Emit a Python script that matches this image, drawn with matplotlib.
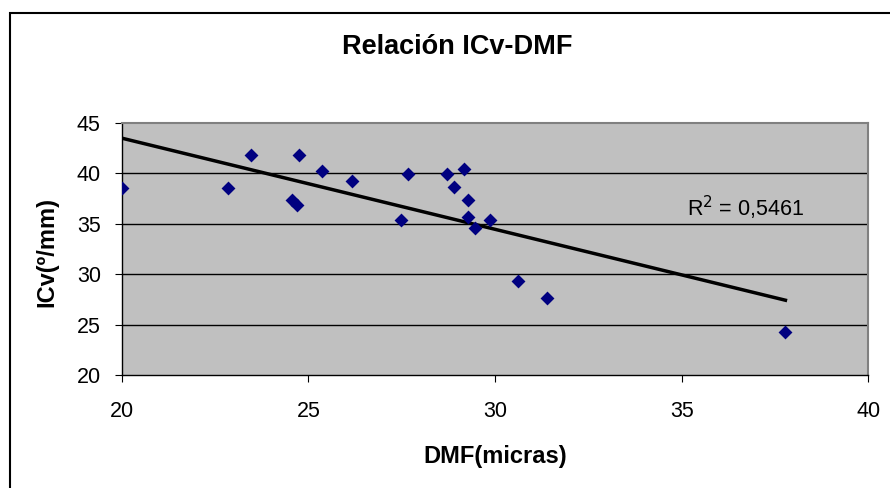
import numpy as np
import matplotlib
import matplotlib.pyplot as plt
from matplotlib.patches import Rectangle

matplotlib.use('Agg')

plt.rcParams['font.family'] = ['Liberation Sans', 'DejaVu Sans']

# Data
dmf = [20.0, 22.85, 23.46, 24.74, 24.55, 24.70, 25.37, 26.18, 27.49, 27.68,
       28.72, 28.91, 29.16, 29.29, 29.29, 29.47, 29.87, 30.62, 31.38, 37.78]
icv = [38.5, 38.5, 41.8, 41.8, 37.3, 36.85, 40.25, 39.2, 35.35, 39.9,
       39.9, 38.65, 40.4, 37.3, 35.7, 34.6, 35.35, 29.35, 27.6, 24.25]
r2_label = "R$^2$ = 0,5461"
x_ticks = [20, 25, 30, 35, 40]
y_ticks = [20, 25, 30, 35, 40, 45]

fig = plt.figure(figsize=(8.9, 4.88), dpi=100)
ax = fig.add_axes([121.7 / 890, 1 - 375 / 488, (868.3 - 121.7) / 890, (375 - 122.7) / 488])
ax.set_facecolor('#C0C0C0')

# Outer chart border (runs off the right and bottom edges)
fig.add_artist(Rectangle((10 / 890, -0.1), 1.0, 1 - 13 / 488 + 0.1,
                         transform=fig.transFigure, fill=False, lw=1.5, ec='black'))

for yv in y_ticks[1:-1]:
    ax.axhline(yv, color='black', lw=1.0, zorder=1)

ax.scatter(dmf, icv, marker='D', s=50, color='#000080', zorder=3, linewidths=0)

# Linear trendline over the data range
coef = np.polyfit(dmf, icv, 1)
xs = np.array([min(dmf), max(dmf)])
ax.plot(xs, np.polyval(coef, xs), color='black', lw=2.5, zorder=2)

ax.text(35.14, 35.7, r2_label, fontsize=15.5, color='black', va='baseline')

ax.set_xlim(20, 40)
ax.set_ylim(20, 45)
ax.set_xticks(x_ticks)
ax.set_yticks(y_ticks)
ax.tick_params(axis='both', labelsize=15.5, length=5, direction='out', colors='black')
ax.tick_params(axis='x', pad=14)
ax.tick_params(axis='y', pad=10)

for side in ['top', 'right']:
    ax.spines[side].set_color('#808080')
    ax.spines[side].set_linewidth(1.5)
for side in ['left', 'bottom']:
    ax.spines[side].set_color('black')
    ax.spines[side].set_linewidth(1.0)

fig.text(495 / 890, 1 - 456 / 488, 'DMF(micras)', fontsize=17, fontweight='bold',
         ha='center', va='center')
fig.text(47 / 890, 1 - 252 / 488, 'ICv(º/mm)', fontsize=17, fontweight='bold',
         ha='center', va='center', rotation=90)
fig.text(457 / 890, 1 - 47 / 488, 'Relación ICv-DMF', fontsize=19.5, fontweight='bold',
         ha='center', va='center')

plt.savefig('out.png', dpi=100)
